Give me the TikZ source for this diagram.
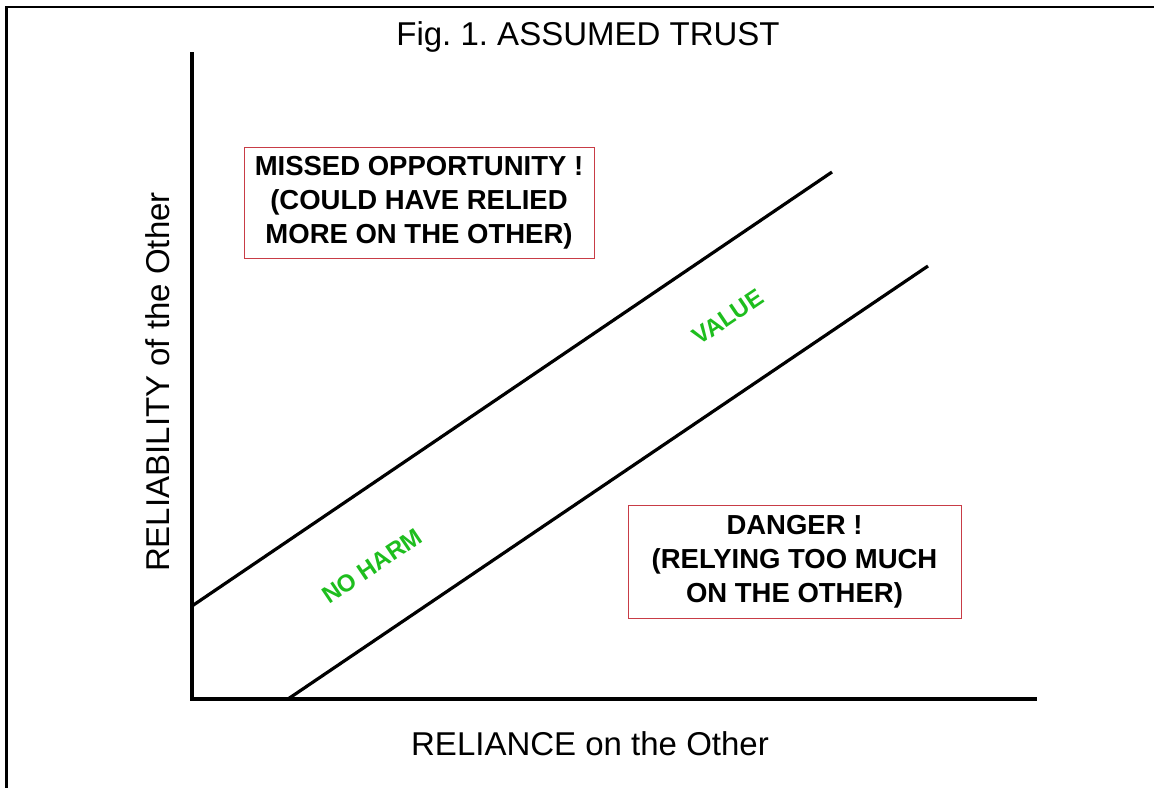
\documentclass[tikz,border=0pt]{standalone}
\usepackage{fontspec}
\setmainfont{Liberation Sans}
\definecolor{boxred}{RGB}{200,60,70}
\definecolor{labgreen}{RGB}{30,190,30}
\begin{document}
\frenchspacing
\begin{tikzpicture}[x=1pt,y=-1pt,
  axis/.style={line width=3.2pt,black},
  band/.style={line width=3.2pt,black},
  frameline/.style={line width=2.8pt,black},
  bigtext/.style={font=\fontsize{33}{40}\selectfont,inner sep=0pt},
  boxlabel/.style={draw=boxred,line width=0.9pt,inner sep=0pt,align=center,
    font=\fontsize{27.5}{34}\selectfont\bfseries},
  zonelabel/.style={text=labgreen,font=\fontsize{24}{28}\selectfont\bfseries,inner sep=0pt,rotate=34}]
\useasboundingbox (0,0) rectangle (1154,788);
\fill[white] (0,0) rectangle (1154,788);
% frame (top and left only)
\coordinate (fTL) at (6.5,7);
\coordinate (fTR) at (1154,7);
\coordinate (fBL) at (6.5,788);
\draw[frameline] (fTR) -- (fTL) -- (fBL);
% axes
\coordinate (O) at (192,699);
\coordinate (ytop) at (192,52);
\coordinate (xend) at (1037,699);
\draw[axis,line cap=butt] (ytop) -- (O) -- (xend);
% band lines
\coordinate (u1) at (192,606);
\coordinate (u2) at (832,172);
\coordinate (l1) at (288,699);
\coordinate (l2) at (928,266);
\draw[band] (u1) -- (u2);
\draw[band] (l1) -- (l2);
% texts
\node[bigtext] (title) at (588,37) {Fig. 1. ASSUMED TRUST};
\node[bigtext,rotate=90] (ylab) at (158,382) {RELIABILITY of the Other};
\node[bigtext] (xlab) at (590,744) {RELIANCE on the Other};
% boxes
\node[boxlabel,minimum width=350pt,minimum height=111pt] (missed) at (419,202.5)
  {MISSED OPPORTUNITY !\\(COULD HAVE RELIED\\MORE ON THE OTHER)};
\node[boxlabel,minimum width=333pt,minimum height=113pt] (danger) at (794.5,561.5)
  {DANGER !\\(RELYING TOO MUCH\\ON THE OTHER)};
% zone labels
\node[zonelabel] (value) at (728,317) {VALUE};
\node[zonelabel] (noharm) at (372,566) {NO HARM};
\end{tikzpicture}
\end{document}
